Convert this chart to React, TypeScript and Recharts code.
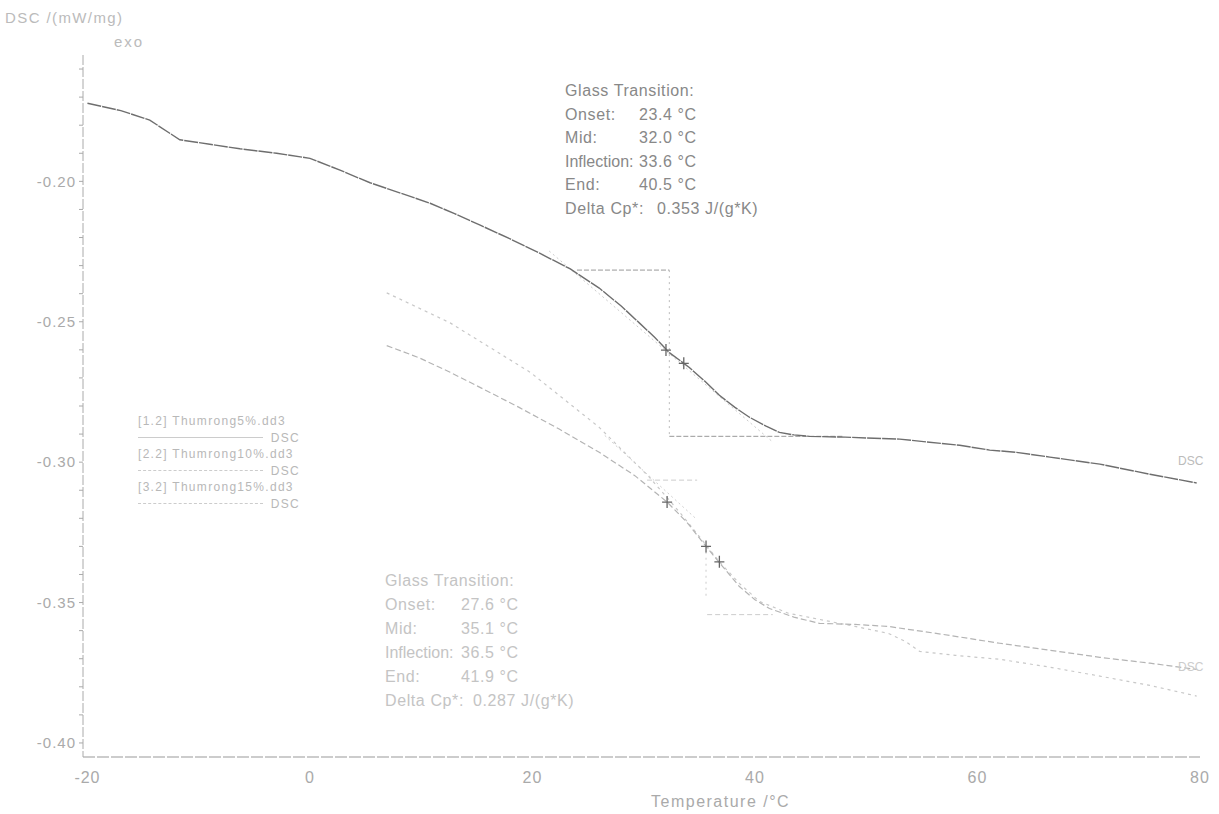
import {
  LineChart,
  Line,
  XAxis,
  YAxis,
  ReferenceLine,
  Scatter,
} from 'recharts'

// DSC curves (temperature °C, DSC mW/mg)
const temp5 = [-20, -17, -14.4, -11.7, -9, -6.3, -3, 0, 2.7, 5.4, 8, 10.8, 13, 15.3, 18, 20.6, 23.4, 26, 28, 29.6, 31, 32.3, 33.6, 34.1, 35.5, 36.8, 38.2, 39.5, 41, 42.2, 43.5, 44.9, 48.1, 53, 58.4, 61.1, 63.5, 66.5, 71, 75.5, 79.7]
const dsc5 = [-0.1722, -0.1748, -0.1782, -0.1852, -0.1868, -0.1884, -0.19, -0.1918, -0.196, -0.2005, -0.204, -0.2078, -0.2115, -0.2156, -0.2205, -0.2255, -0.2312, -0.238, -0.2445, -0.2504, -0.2556, -0.261, -0.2648, -0.2663, -0.2712, -0.2762, -0.2805, -0.284, -0.2872, -0.2894, -0.2903, -0.2908, -0.2911, -0.2918, -0.294, -0.2957, -0.2965, -0.2982, -0.3007, -0.3043, -0.3074]

const temp10 = [6.9, 9.8, 12.6, 15.7, 18.8, 22.4, 26, 29.2, 32.1, 33.9, 35.6, 37.1, 38.6, 40, 41.3, 43.5, 45.8, 49, 52, 57.5, 62, 66.5, 71, 75.5, 79.7]
const dsc10 = [-0.2585, -0.2628, -0.268, -0.2742, -0.2805, -0.2882, -0.2965, -0.3048, -0.3142, -0.3215, -0.33, -0.3372, -0.3443, -0.349, -0.3521, -0.3552, -0.3574, -0.3578, -0.3585, -0.3617, -0.3645, -0.367, -0.3695, -0.3716, -0.3738]

const temp15 = [6.9, 12.6, 19.8, 26, 30.5, 33.2, 35, 36.8, 38.6, 40.4, 43, 45.8, 49, 52, 53.5, 54.8, 58, 62, 66.5, 71, 75.5, 79.7]
const dsc15 = [-0.2397, -0.2504, -0.268, -0.2876, -0.3053, -0.3177, -0.3265, -0.3355, -0.3432, -0.3496, -0.3538, -0.356, -0.3585, -0.361, -0.3638, -0.3674, -0.3688, -0.3702, -0.373, -0.3762, -0.3795, -0.3833]

const markerTemps = [32.0, 33.6, 32.1, 35.6, 36.8]
const markerValues = [-0.2601, -0.2648, -0.3142, -0.33, -0.3355]

const xTicks = [-20, 0, 20, 40, 60, 80]
const yTicks = [-0.4, -0.39, -0.38, -0.37, -0.36, -0.35, -0.34, -0.33, -0.32, -0.31, -0.3, -0.29, -0.28, -0.27, -0.26, -0.25, -0.24, -0.23, -0.22, -0.21, -0.2, -0.19, -0.18, -0.17, -0.16]

const resultLabels = ['Glass Transition:', 'Onset:', 'Mid:', 'Inflection:', 'End:', 'Delta Cp*:']
const upperValues = ['', '23.4 °C', '32.0 °C', '33.6 °C', '40.5 °C', '0.353 J/(g*K)']
const lowerValues = ['', '27.6 °C', '35.1 °C', '36.5 °C', '41.9 °C', '0.287 J/(g*K)']

const legendFiles = ['[1.2] Thumrong5%.dd3', '[2.2] Thumrong10%.dd3', '[3.2] Thumrong15%.dd3']

const zip = (xs: number[], ys: number[]) => xs.map((t, i) => ({ t, v: ys[i] }))

const font = '"Liberation Sans", Arial, sans-serif'

function ResultBlock({ left, top, values, color, lineH, valueX, deltaX }: {
  left: number; top: number; values: string[]; color: string; lineH: number; valueX: number; deltaX: number
}) {
  return (
    <div style={{ position: 'absolute', left, top, color, fontSize: 16, letterSpacing: 0.6, fontFamily: font, lineHeight: `${lineH}px` }}>
      {resultLabels.map((label, i) => (
        <div key={label} style={{ position: 'relative', height: lineH, whiteSpace: 'nowrap' }}>
          <span style={{ letterSpacing: i === 3 ? 0 : undefined }}>{label}</span>
          {values[i] && (
            <span style={{ position: 'absolute', left: i === 5 ? deltaX : valueX, whiteSpace: 'nowrap' }}>{values[i]}</span>
          )}
        </div>
      ))}
    </div>
  )
}

// thin "+" marker like the instrument's evaluation points
function Cross(props: any) {
  const { cx, cy } = props
  if (cx == null || cy == null) return null
  return <path d={`M${cx - 5},${cy}H${cx + 5}M${cx},${cy - 6}V${cy + 6}`} stroke="#666" strokeWidth={1.3} fill="none" />
}

export default function App() {
  const seg = (x1: number, y1: number, x2: number, y2: number) => [{ x: x1, y: y1 }, { x: x2, y: y2 }] as any

  return (
    <div style={{ position: 'absolute', left: 0, top: 0, width: 1219, height: 814, background: '#fff', fontFamily: font, overflow: 'hidden' }}>
      <LineChart width={1219} height={814} margin={{ top: 55, right: 19, bottom: 27, left: 13 }}>
        <XAxis
          type="number"
          dataKey="t"
          domain={[-20.4, 80]}
          ticks={xTicks}
          allowDataOverflow
          tickLine={false}
          tickSize={6}
          tickMargin={9}
          height={30}
          axisLine={{ stroke: '#999', strokeDasharray: '12 2' }}
          tick={{ fontSize: 16, fill: '#aaa', fontFamily: font, letterSpacing: 1 }}
        />
        <YAxis
          type="number"
          dataKey="v"
          domain={[-0.405, -0.155]}
          ticks={yTicks}
          allowDataOverflow
          width={70}
          tickSize={4}
          tickMargin={3}
          axisLine={{ stroke: '#aaa', strokeDasharray: '10 2' }}
          tickLine={{ stroke: '#aaa' }}
          tickFormatter={(v: number) => (Math.round(v * 100) % 5 === 0 ? v.toFixed(2) : '')}
          tick={{ fontSize: 15, fill: '#aaa', fontFamily: font, letterSpacing: 1 }}
        />
        {/* construction lines for the 5% step */}
        <ReferenceLine segment={seg(24.0, -0.2316, 32.3, -0.2316)} stroke="#999" strokeDasharray="5 2" />
        <ReferenceLine segment={seg(32.3, -0.2316, 32.3, -0.2908)} stroke="#bbb" strokeDasharray="2 4" />
        <ReferenceLine segment={seg(32.3, -0.2908, 47.9, -0.2908)} stroke="#999" strokeDasharray="5 2" />
        <ReferenceLine segment={seg(21.5, -0.2248, 41.5, -0.2925)} stroke="#ccc" strokeDasharray="2 3" />
        {/* construction lines for the lower step */}
        <ReferenceLine segment={seg(30.3, -0.3064, 34.8, -0.3064)} stroke="#ccc" strokeDasharray="5 3" />
        <ReferenceLine segment={seg(35.6, -0.3319, 35.6, -0.3489)} stroke="#ccc" strokeDasharray="2 4" />
        <ReferenceLine segment={seg(35.7, -0.3543, 41.6, -0.3543)} stroke="#ccc" strokeDasharray="5 3" />
        <ReferenceLine segment={seg(26.5, -0.2905, 34.8, -0.3205)} stroke="#d0d0d0" strokeDasharray="2 3" />

        <Line data={zip(temp15, dsc15)} dataKey="v" stroke="#c8c8c8" strokeWidth={1.2} strokeDasharray="3 4" dot={false} isAnimationActive={false} />
        <Line data={zip(temp10, dsc10)} dataKey="v" stroke="#b4b4b4" strokeWidth={1.2} strokeDasharray="6 3" dot={false} isAnimationActive={false} />
        <Line data={zip(temp5, dsc5)} dataKey="v" stroke="#6e6e6e" strokeWidth={1.4} strokeDasharray="14 1" dot={false} isAnimationActive={false} />
        <Scatter data={zip(markerTemps, markerValues)} dataKey="v" shape={<Cross />} isAnimationActive={false} />
      </LineChart>

      <div style={{ position: 'absolute', left: 5, top: 9, fontSize: 15, letterSpacing: 1.4, color: '#bbb' }}>DSC /(mW/mg)</div>
      <div style={{ position: 'absolute', left: 114, top: 33, fontSize: 15, letterSpacing: 2, color: '#bbb' }}>exo</div>
      <div style={{ position: 'absolute', left: 651, top: 793, fontSize: 16, letterSpacing: 1.5, color: '#aaa' }}>Temperature /°C</div>

      <ResultBlock left={565} top={79} values={upperValues} color="#888" lineH={23.6} valueX={74} deltaX={92} />
      <ResultBlock left={385} top={569} values={lowerValues} color="#c4c4c4" lineH={24} valueX={76} deltaX={88} />

      <div style={{ position: 'absolute', left: 138, top: 413, width: 162, fontSize: 12, letterSpacing: 1.3, color: '#b8b8b8', lineHeight: '16.5px' }}>
        {legendFiles.map((f, i) => (
          <div key={f}>
            <div style={{ whiteSpace: 'nowrap' }}>{f}</div>
            <div style={{ display: 'flex', alignItems: 'center' }}>
              <span style={{ flex: 1, borderTop: `1px ${i === 0 ? 'solid' : 'dashed'} #ccc`, margin: '0 8px 0 0' }} />
              <span>DSC</span>
            </div>
          </div>
        ))}
      </div>

      <div style={{ position: 'absolute', left: 1178, top: 454, fontSize: 12, color: '#bbb' }}>DSC</div>
      <div style={{ position: 'absolute', left: 1178, top: 660, fontSize: 12, color: '#ccc' }}>DSC</div>
    </div>
  )
}
